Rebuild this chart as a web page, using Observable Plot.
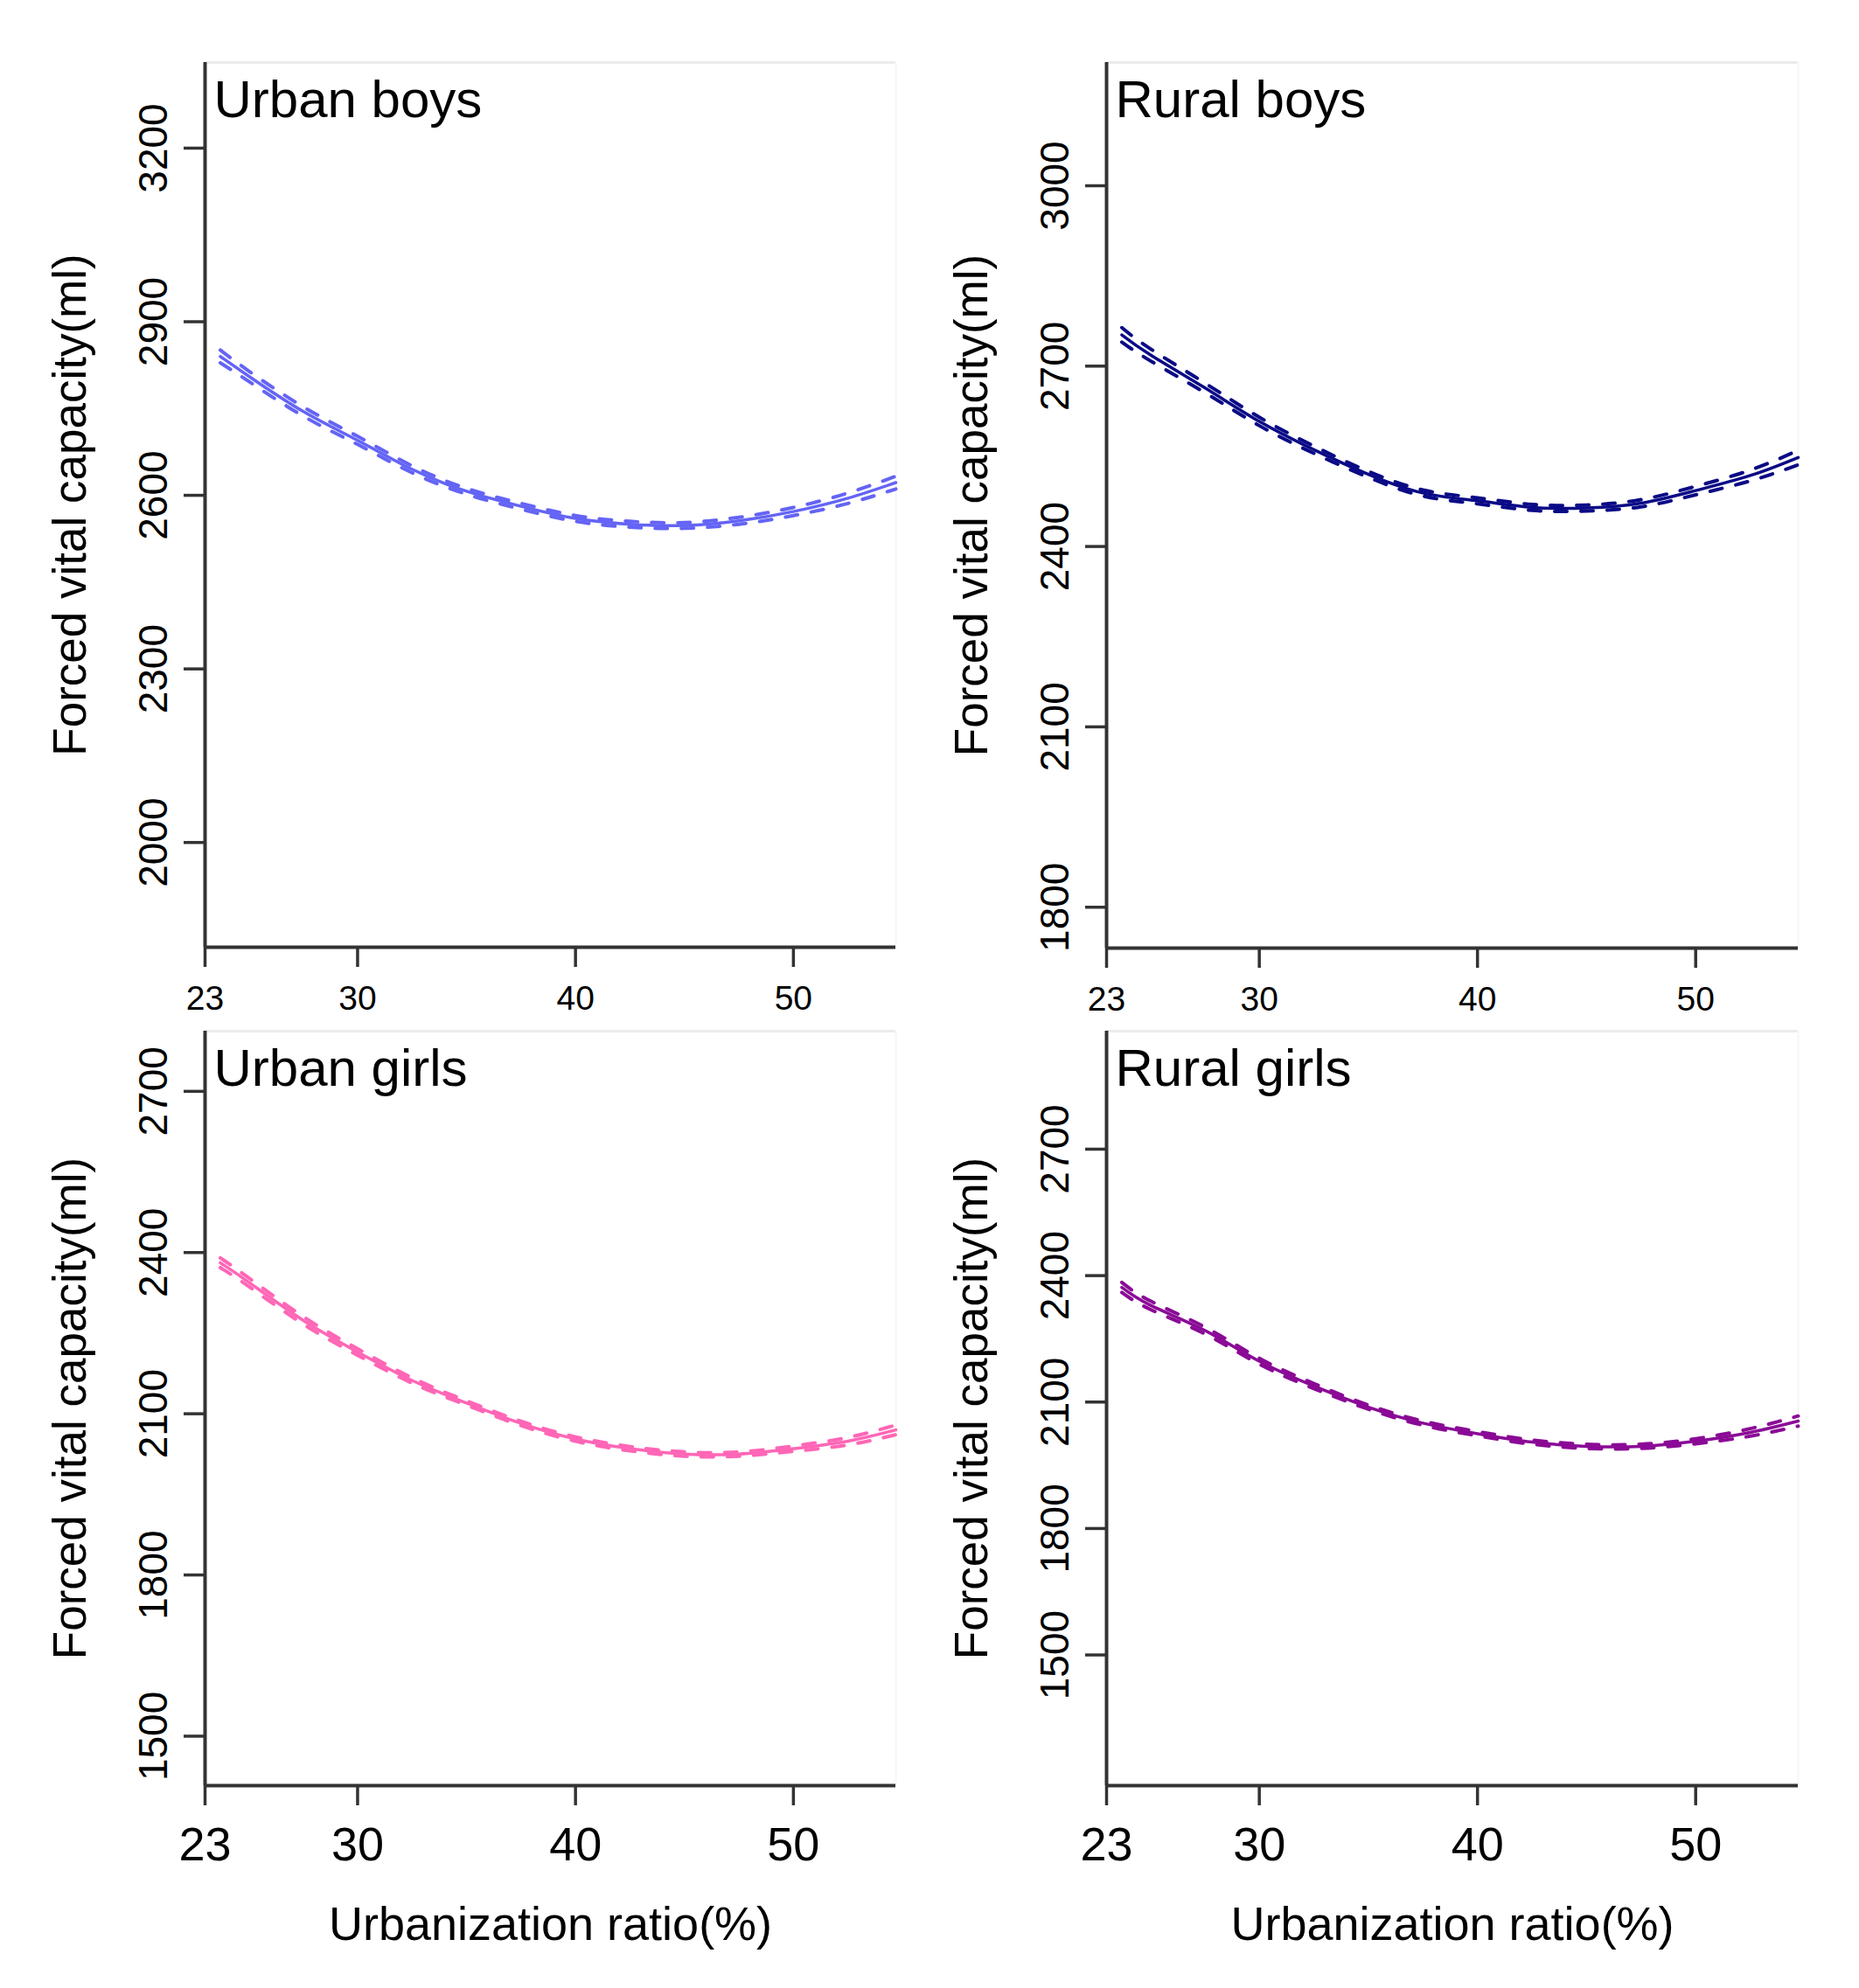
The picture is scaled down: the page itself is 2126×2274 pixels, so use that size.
<!DOCTYPE html>
<html>
<head>
<meta charset="utf-8">
<script src="https://cdn.jsdelivr.net/npm/d3@7"></script>
<script src="https://cdn.jsdelivr.net/npm/@observablehq/plot@0.6"></script>
<style>
  html, body { margin: 0; padding: 0; background: #fff; }
  #root { position: relative; width: 2126px; height: 2274px; background: #fff; overflow: hidden; }
  #root svg { position: absolute; max-width: none; }
</style>
</head>
<body>
<div id="root"></div>
<script>
// ---- Data ----
const xTicks = [23, 30, 40, 50];
const xs = [23.7, 25, 27.5, 30, 32.5, 35, 37.5, 40, 42.5, 45, 47.5, 50, 52.5, 54.7];

const urbanBoysFit   = [2840, 2806, 2745, 2695, 2645, 2607, 2581, 2560, 2550, 2548, 2556, 2572, 2595, 2622];
const urbanBoysLow   = [2829, 2797, 2737, 2688, 2639, 2602, 2576, 2555, 2545, 2543, 2550, 2565, 2586, 2611];
const urbanBoysHigh  = [2851, 2815, 2753, 2702, 2651, 2612, 2586, 2565, 2555, 2553, 2562, 2579, 2604, 2633];

const ruralBoysFit   = [2752, 2719, 2664, 2608, 2561, 2520, 2489, 2476, 2465, 2464, 2472, 2493, 2518, 2548];
const ruralBoysLow   = [2740, 2709, 2656, 2601, 2555, 2515, 2484, 2471, 2460, 2459, 2466, 2486, 2509, 2536];
const ruralBoysHigh  = [2764, 2729, 2672, 2615, 2567, 2525, 2494, 2481, 2470, 2469, 2478, 2500, 2527, 2560];

const urbanGirlsFit  = [2381, 2345, 2274, 2215, 2162, 2120, 2082, 2053, 2035, 2025, 2025, 2035, 2049, 2070];
const urbanGirlsLow  = [2372, 2337, 2267, 2209, 2157, 2116, 2078, 2049, 2031, 2021, 2021, 2030, 2042, 2061];
const urbanGirlsHigh = [2390, 2353, 2281, 2221, 2167, 2124, 2086, 2057, 2039, 2029, 2029, 2040, 2056, 2079];

const ruralGirlsFit  = [2372, 2330, 2270, 2197, 2138, 2088, 2050, 2025, 2005, 1995, 1995, 2007, 2028, 2055];
const ruralGirlsLow  = [2360, 2320, 2262, 2190, 2132, 2083, 2045, 2020, 2000, 1990, 1990, 2001, 2019, 2043];
const ruralGirlsHigh = [2384, 2340, 2278, 2204, 2144, 2093, 2055, 2030, 2010, 2000, 2000, 2013, 2037, 2067];

const titles = ["Urban boys", "Rural boys", "Urban girls", "Rural girls"];
const yTicksUrbanBoys = [2000, 2300, 2600, 2900, 3200];
const yTicksRuralBoys = [1800, 2100, 2400, 2700, 3000];
const yTicksGirls = [1500, 1800, 2100, 2400, 2700];
const yLabel = "Forced vital capacity(ml)";
const xLabel = "Urbanization ratio(%)";

// ---- Drawing ----
const FONT = "'Liberation Sans', Arial, Helvetica, sans-serif";
const AXIS = "#333333";

function rows(fit, lo, hi) {
  return xs.map((x, i) => ({x, fit: fit[i], lo: lo[i], hi: hi[i]}));
}

function panel(cfg) {
  const data = rows(cfg.fit, cfg.lo, cfg.hi);
  const xDomain = [23, 54.7];
  const marks = [
    Plot.ruleY([cfg.yDomain[1]], {stroke: "#ececec", strokeWidth: 3}),
    Plot.ruleX([xDomain[1]], {stroke: "#f6f6f6", strokeWidth: 2}),
    Plot.line(data, {x: "x", y: "lo", stroke: cfg.color, strokeWidth: 4, strokeDasharray: "14,16", curve: "natural"}),
    Plot.line(data, {x: "x", y: "hi", stroke: cfg.color, strokeWidth: 4, strokeDasharray: "14,16", curve: "natural"}),
    Plot.line(data, {x: "x", y: "fit", stroke: cfg.color, strokeWidth: 3.5, curve: "natural"}),
    Plot.axisY({
      ticks: cfg.yTicks, tickFormat: d => String(d), tickSize: 24, tickPadding: 20,
      tickRotate: -90, fontSize: 46, stroke: AXIS, strokeWidth: 3.5, fill: "#000", label: null
    }),
    Plot.axisX({
      ticks: xTicks, tickFormat: d => String(d), tickSize: 23, tickPadding: cfg.xPad,
      fontSize: cfg.xFs, stroke: AXIS, strokeWidth: 3.5, fill: "#000", label: null
    }),
    Plot.ruleX([xDomain[0]], {stroke: AXIS, strokeWidth: 4}),
    Plot.ruleY([cfg.yDomain[0]], {stroke: AXIS, strokeWidth: 4}),
    Plot.text([cfg.title], {
      frameAnchor: "top-left", dx: 10, dy: 62, textAnchor: "start", lineAnchor: "bottom",
      fontSize: 60, fill: "#000"
    }),
    Plot.text([yLabel], {
      frameAnchor: "left", dx: -153, rotate: -90, textAnchor: "middle", lineAnchor: "middle",
      fontSize: 53, fill: "#000"
    })
  ];
  if (cfg.showX) {
    marks.push(Plot.text([xLabel], {
      frameAnchor: "bottom", dy: 176, textAnchor: "middle", lineAnchor: "bottom",
      fontSize: 54, fill: "#000"
    }));
  }
  const svg = Plot.plot({
    width: cfg.w, height: cfg.h,
    marginLeft: cfg.ml, marginRight: cfg.mr, marginTop: cfg.mt, marginBottom: cfg.mb,
    style: {fontFamily: FONT, background: "transparent", overflow: "visible"},
    x: {domain: xDomain},
    y: {domain: cfg.yDomain},
    marks
  });
  svg.style.left = cfg.left + "px";
  svg.style.top = cfg.top + "px";
  document.getElementById("root").appendChild(svg);
}

panel({left: 0, top: 0, w: 1063, h: 1170, ml: 234, mr: 39, mt: 71, mb: 87,
  yDomain: [1819, 3348], yTicks: yTicksUrbanBoys, color: "#6464f5", title: titles[0],
  fit: urbanBoysFit, lo: urbanBoysLow, hi: urbanBoysHigh, xFs: 39, xPad: 21, showX: false});
panel({left: 1063, top: 0, w: 1063, h: 1170, ml: 202, mr: 70, mt: 71, mb: 86,
  yDomain: [1732, 3205], yTicks: yTicksRuralBoys, color: "#0a0a86", title: titles[1],
  fit: ruralBoysFit, lo: ruralBoysLow, hi: ruralBoysHigh, xFs: 39, xPad: 21, showX: false});
panel({left: 0, top: 1170, w: 1063, h: 1104, ml: 234, mr: 39, mt: 9, mb: 232,
  yDomain: [1408, 2812], yTicks: yTicksGirls, color: "#ff66b6", title: titles[2],
  fit: urbanGirlsFit, lo: urbanGirlsLow, hi: urbanGirlsHigh, xFs: 54, xPad: 24, showX: true});
panel({left: 1063, top: 1170, w: 1063, h: 1104, ml: 202, mr: 70, mt: 9, mb: 232,
  yDomain: [1190, 2980], yTicks: yTicksGirls, color: "#8a0a96", title: titles[3],
  fit: ruralGirlsFit, lo: ruralGirlsLow, hi: ruralGirlsHigh, xFs: 54, xPad: 24, showX: true});
</script>
</body>
</html>
